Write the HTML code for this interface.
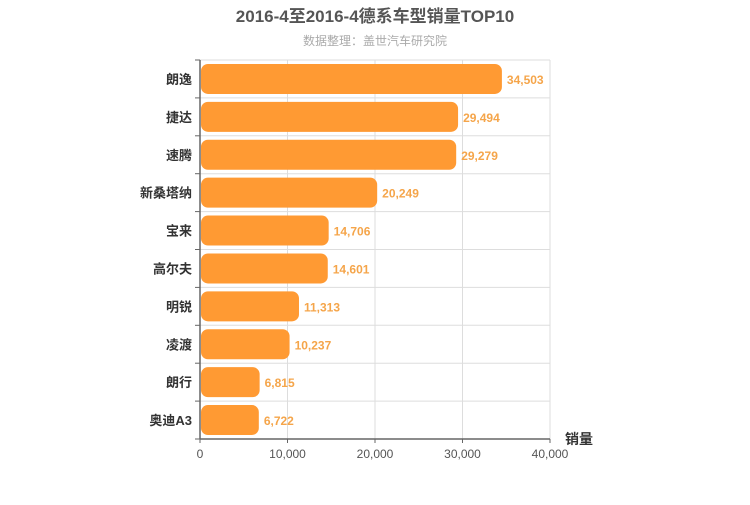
<!DOCTYPE html>
<html><head><meta charset="utf-8"><style>
body{margin:0;background:#fff;font-family:"Liberation Sans","Noto Sans CJK SC",sans-serif}
</style></head><body>
<svg width="750" height="500" xmlns="http://www.w3.org/2000/svg" font-family="Liberation Sans, Noto Sans CJK SC, sans-serif">
<text x="375" y="22" text-anchor="middle" font-size="17" font-weight="bold" fill="#555">2016-4至2016-4德系车型销量TOP10</text>
<text x="375" y="45" text-anchor="middle" font-size="12" fill="#aaa">数据整理：盖世汽车研究院</text>
<g id="grid"></g><g id="bars"></g><g id="axes"></g>
<text x="565" y="444" font-size="14" font-weight="bold" fill="#333">销量</text>
</svg>
<script>
const categories=["朗逸","捷达","速腾","新桑塔纳","宝来","高尔夫","明锐","凌渡","朗行","奥迪A3"];
const values=[34503,29494,29279,20249,14706,14601,11313,10237,6815,6722];
const ticks=[0,10000,20000,30000,40000];
const X0=200,X1=550,Y0=60,Y1=439,MAX=40000;
const ns="http://www.w3.org/2000/svg";
const x=v=>X0+(X1-X0)*v/MAX;
const rowH=(Y1-Y0)/categories.length;
const fmt=v=>v.toLocaleString("en-US");
function mk(tag,attrs,parent,txt){const e=document.createElementNS(ns,tag);for(const k in attrs)e.setAttribute(k,attrs[k]);if(txt!==undefined)e.textContent=txt;document.getElementById(parent).appendChild(e);return e;}
ticks.forEach(t=>{
 const g=mk("line",{x1:x(t),x2:x(t),y1:Y0,y2:Y1,stroke:"#ddd"},"grid");
 
 
 const tk=mk("line",{x1:x(t),x2:x(t),y1:Y1,y2:Y1+4,stroke:"#666"},"axes");
 
 
 const l=mk("text",{x:x(t),y:Y1+19,"text-anchor":"middle","font-size":12,fill:"#555"},"axes",fmt(t));
 
 
});
for(let i=0;i<=categories.length;i++){
 const y=Y0+i*rowH;
 const g=mk("line",{x1:X0,x2:X1,y1:y,y2:y,stroke:"#ddd"},"grid");
 
 
 const tk=mk("line",{x1:X0-5,x2:X0,y1:y,y2:y,stroke:"#666"},"axes");
 
 
}
categories.forEach((c,i)=>{
 const yc=Y0+(i+0.5)*rowH;
 const b=mk("rect",{x:X0+1,y:yc-15,width:x(values[i])-X0-1,height:30,rx:7,fill:"#ff9a33"},"bars");
 
 
 const v=mk("text",{x:x(values[i])+5,y:yc+5,"font-size":12,"font-weight":"bold",fill:"#f5a54a"},"bars",fmt(values[i]));
 
 
 const l=mk("text",{x:X0-8,y:yc+5,"text-anchor":"end","font-size":13,"font-weight":"bold",fill:"#333"},"axes",c);
 
 
});
const ax=mk("line",{x1:X0,x2:X0,y1:Y0,y2:Y1,stroke:"#666","stroke-width":1.5},"axes");


const xa=mk("line",{x1:X0,x2:X1,y1:Y1,y2:Y1,stroke:"#666","stroke-width":1.5},"axes");


</script>
</body></html>
